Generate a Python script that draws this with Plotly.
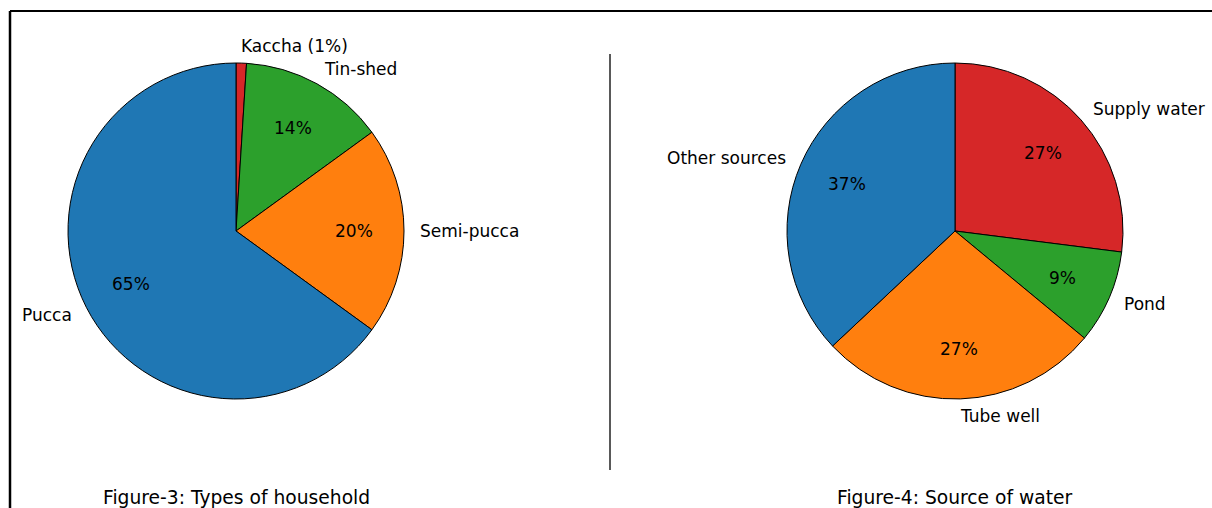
import math
import plotly.graph_objects as go

# Figure-3: household types
house_types = ["Pucca", "Semi-pucca", "Tin-shed", "Kaccha"]
house_labels = ["Pucca", "Semi-pucca", "Tin-shed", "Kaccha (1%)"]
house_values = [65, 20, 14, 1]
house_show_pct = [True, True, True, False]

# Figure-4: water sources
water_types = ["Other sources", "Tube well", "Pond", "Supply water"]
water_labels = ["Other sources", "Tube well", "Pond", "Supply water"]
water_values = [37, 27, 9, 27]
water_show_pct = [True, True, True, True]

colors = ["#1f77b4", "#ff7f0e", "#2ca02c", "#d62728"]

W, H = 1212, 508
R = 168            # pie radius in px
CY = 231           # pie centre (px from top)
CENTERS = [236, 955]
FONT = "DejaVu Sans"
LABEL_DIST = 1.1
PCT_DIST = 0.7
TEXT_PAD = 2       # annotation box padding to compensate, px

fig = go.Figure()
annotations = []


def add_pie(cx, names, labels, values, show_pct):
    x0, x1 = (cx - R) / W, (cx + R) / W
    y0, y1 = 1 - (CY + R) / H, 1 - (CY - R) / H
    # slices should run counterclockwise from 12 o'clock; laying the
    # reversed list out clockwise from 12 o'clock gives the same wedges
    fig.add_trace(go.Pie(
        labels=names[::-1], values=values[::-1], sort=False,
        direction="clockwise", rotation=0,
        marker=dict(colors=colors[::-1], line=dict(color="black", width=1)),
        textinfo="none", hoverinfo="label+percent",
        showlegend=False,
        domain=dict(x=[x0, x1], y=[y0, y1]),
    ))
    total = sum(values)
    cum = 0
    for lab, v, sp in zip(labels, values, show_pct):
        mid = math.radians(90 + 360 * (cum + v / 2) / total)
        cum += v
        c, s = math.cos(mid), math.sin(mid)
        right = c > 0
        lx = cx + R * LABEL_DIST * c + (-TEXT_PAD if right else TEXT_PAD)
        ly = CY - R * LABEL_DIST * s
        annotations.append(dict(
            x=lx / W, y=1 - ly / H, xref="paper", yref="paper",
            text=lab, showarrow=False, borderpad=0,
            xanchor="left" if right else "right", yanchor="middle",
            font=dict(family=FONT, size=17, color="black"),
        ))
        if sp:
            px = cx + R * PCT_DIST * c
            py = CY - R * PCT_DIST * s
            annotations.append(dict(
                x=px / W, y=1 - py / H, xref="paper", yref="paper",
                text=f"{100 * v / total:.0f}%", showarrow=False, borderpad=0,
                xanchor="center", yanchor="middle",
                font=dict(family=FONT, size=17, color="black"),
            ))


add_pie(CENTERS[0], house_types, house_labels, house_values, house_show_pct)
add_pie(CENTERS[1], water_types, water_labels, water_values, water_show_pct)

captions = ["Figure-3: Types of household", "Figure-4: Source of water"]
for cx, cap in zip(CENTERS, captions):
    annotations.append(dict(
        x=cx / W, y=1 - 497 / H, xref="paper", yref="paper",
        text=cap, showarrow=False, xanchor="center", yanchor="middle",
        borderpad=0,
        font=dict(family=FONT, size=18.7, color="black"),
    ))

shapes = [
    # outer frame (top and left edges)
    dict(type="line", xref="paper", yref="paper",
         x0=10 / W, x1=1.0, y0=1 - 11 / H, y1=1 - 11 / H,
         line=dict(color="black", width=2)),
    dict(type="line", xref="paper", yref="paper",
         x0=10 / W, x1=10 / W, y0=1 - 11 / H, y1=0,
         line=dict(color="black", width=2.5)),
    # divider between the two figures
    dict(type="line", xref="paper", yref="paper",
         x0=610 / W, x1=610 / W, y0=1 - 54 / H, y1=1 - 470 / H,
         line=dict(color="#222222", width=1.5)),
]

fig.update_layout(
    width=W, height=H,
    margin=dict(l=0, r=0, t=0, b=0),
    paper_bgcolor="white", plot_bgcolor="white",
    annotations=annotations, shapes=shapes,
    font=dict(family=FONT),
)

fig.write_html("out.html")
